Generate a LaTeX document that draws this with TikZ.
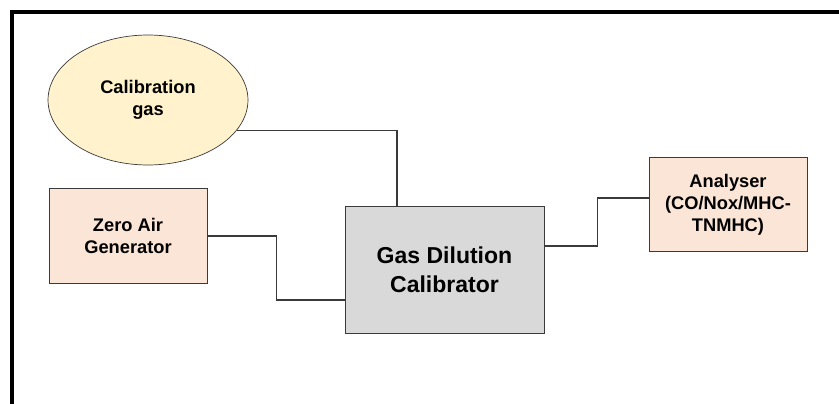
\documentclass[tikz,border=0pt]{standalone}
\usepackage{fontspec}
\setmainfont{Liberation Sans}
\usepackage{xcolor}
\usepackage{tikz}
\usetikzlibrary{shapes.geometric, positioning, calc}
\definecolor{calyellow}{HTML}{FFF2CC}
\definecolor{boxpeach}{HTML}{FBE5D6}
\definecolor{boxgrey}{HTML}{D9D9D9}
\definecolor{edgegrey}{HTML}{3A3A3A}

\begin{document}
\begin{tikzpicture}[
    x=0.02cm, y=-0.02cm,
    font=\bfseries\fontsize{10.4}{12.6}\selectfont,
    gasbody/.style={draw=edgegrey, ellipse, fill=calyellow, minimum width=4cm, minimum height=2.6cm, align=center, inner sep=0pt},
    unit/.style={draw=edgegrey, fill=boxpeach, minimum width=3.16cm, minimum height=1.89cm, align=center, inner sep=1pt},
    calib/.style={draw=edgegrey, fill=boxgrey, minimum width=3.98cm, minimum height=2.54cm, align=center, inner sep=1pt, font=\bfseries\fontsize{13.1}{16.4}\selectfont},
    pipe/.style={thick, edgegrey},
    frame/.style={line width=2.3pt, black},
]
\useasboundingbox (0,0) rectangle (839,403);

% --- outer frame (cut at right and bottom) ---
\draw[frame] (12,410) -- (12,12) -- (845,12);

% --- sources ---
\node[gasbody] (calgas) at (148,100) {Calibration\\gas};
\node[unit] (zeroair) at (128,236) {Zero Air\\Generator};

% --- calibrator ---
\node[calib] (gdc) at (444.5,269.5) {Gas Dilution\\Calibrator};

% --- analyser ---
\node[unit] (analyser) at (728,204.5) {Analyser\\(CO/Nox/MHC-\\TNMHC)};

% --- gas lines ---
\draw[pipe] (calgas.-19) -| ([xshift=-0.95cm]gdc.north);
\draw[pipe] (zeroair.east) -- ++(69,0) |- ([yshift=-0.61cm]gdc.west);
\draw[pipe] ([yshift=0.47cm]gdc.east) -- ++(53,0) |- ([yshift=0.13cm]analyser.west);

\end{tikzpicture}
\end{document}
